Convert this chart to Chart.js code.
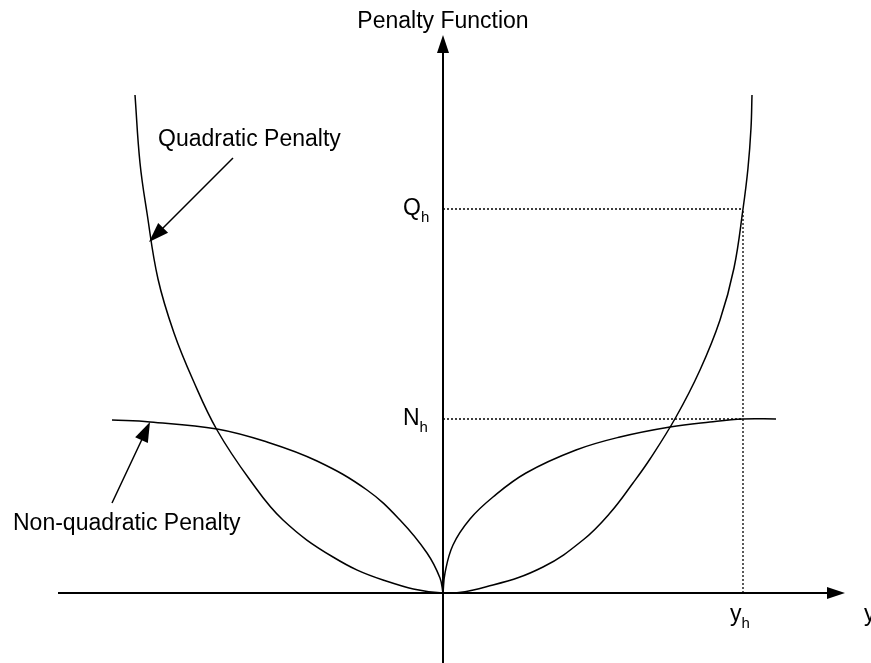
<!DOCTYPE html>
<html>
<head>
<meta charset="utf-8">
<script src="https://cdn.jsdelivr.net/npm/chart.js@4/dist/chart.umd.min.js"></script>
<style>
  body { margin: 0; background: #fff; }
  #chart-div { width: 871px; height: 663px; }
</style>
</head>
<body>
<div id="chart-div"><canvas id="myChart" width="871" height="663"></canvas></div>
<script>
// values (x = deviation y, value = penalty)
const quadX = [-3.08, -3.03, -2.96, -2.85, -2.69, -2.50, -2.26, -1.93, -1.60, -1.10, -0.60, 0, 0.50, 1.00, 1.40, 1.67, 1.90, 2.07, 2.33, 2.57, 2.77, 2.91, 3.00, 3.05, 3.08, 3.09];
const quadY = [4.98, 4.30, 3.80, 3.14, 2.60, 2.13, 1.63, 1.13, 0.73, 0.36, 0.13, 0, 0.08, 0.26, 0.53, 0.80, 1.10, 1.34, 1.76, 2.23, 2.73, 3.25, 3.84, 4.25, 4.65, 4.98];

const nonQuadLeftX = [-3.31, -2.93, -2.26, -1.76, -1.26, -0.76, -0.43, -0.16, -0.03, 0];
const nonQuadLeftY = [1.73, 1.71, 1.64, 1.51, 1.32, 1.03, 0.73, 0.40, 0.15, 0];
const nonQuadRightX = [0, 0.02, 0.10, 0.27, 0.50, 0.83, 1.33, 1.77, 2.27, 2.67, 3.00, 3.33];
const nonQuadRightY = [0, 0.20, 0.48, 0.74, 0.96, 1.20, 1.43, 1.56, 1.66, 1.71, 1.74, 1.74];

// marked levels
const yH = 3.00;
const qH = 3.84;
const nH = 1.74;

// texts
const titleText = "Penalty Function";
const xAxisText = "y";
const tickNames = ["Q", "N", "y"];
const tickSub = "h";
const quadLabel = "Quadratic Penalty";
const nonQuadLabel = "Non-quadratic Penalty";

const toPts = (xs, ys) => xs.map((x, i) => ({x: x, y: ys[i]}));

const FONT = '"Liberation Sans", Arial, sans-serif';

function arrowHead(ctx, x0, y0, x1, y1, len, half) {
    const a = Math.atan2(y1 - y0, x1 - x0);
    ctx.beginPath();
    ctx.moveTo(x1, y1);
    ctx.lineTo(x1 - len * Math.cos(a) + half * Math.sin(a), y1 - len * Math.sin(a) - half * Math.cos(a));
    ctx.lineTo(x1 - len * Math.cos(a) - half * Math.sin(a), y1 - len * Math.sin(a) + half * Math.cos(a));
    ctx.closePath();
    ctx.fill();
}

function subText(ctx, main, sub, x, y) {
    ctx.font = "23px " + FONT;
    ctx.fillText(main, x, y);
    const w = ctx.measureText(main).width;
    ctx.font = "15px " + FONT;
    ctx.fillText(sub, x + w, y + 7);
}

const sketchPlugin = {
    id: "sketch",
    beforeDatasetsDraw(chart) {
        const ctx = chart.ctx;
        const xs = chart.scales.x, ys = chart.scales.y;
        const px = v => xs.getPixelForValue(v);
        const py = v => ys.getPixelForValue(v);
        ctx.save();
        ctx.strokeStyle = "#000";
        ctx.fillStyle = "#000";

        // axes
        ctx.lineWidth = 2;
        ctx.beginPath();
        ctx.moveTo(px(-3.85), py(0));
        ctx.lineTo(px(3.90), py(0));
        ctx.moveTo(px(0), py(-0.72));
        ctx.lineTo(px(0), py(5.45));
        ctx.stroke();
        arrowHead(ctx, px(0), py(0), px(4.02), py(0), 18, 6);
        arrowHead(ctx, px(0), py(0), px(0), py(5.58), 18, 6);

        // annotation arrows
        ctx.lineWidth = 1.5;
        ctx.beginPath();
        ctx.moveTo(px(-2.10), py(4.35));
        ctx.lineTo(px(-2.82), py(3.63));
        ctx.moveTo(px(-3.31), py(0.90));
        ctx.lineTo(px(-2.99), py(1.58));
        ctx.stroke();
        arrowHead(ctx, px(-2.10), py(4.35), px(-2.94), py(3.51), 20, 7);
        arrowHead(ctx, px(-3.31), py(0.90), px(-2.93), py(1.71), 20, 7);

        // texts
        ctx.textBaseline = "alphabetic";
        ctx.font = "23px " + FONT;
        ctx.textAlign = "center";
        ctx.fillText(titleText, px(0), 28);
        ctx.textAlign = "left";
        ctx.fillText(quadLabel, 158, 146);
        ctx.fillText(nonQuadLabel, 13, 530);
        ctx.fillText(xAxisText, 864, py(0) + 28);

        subText(ctx, tickNames[0], tickSub, px(0) - 40, py(qH) + 6);
        subText(ctx, tickNames[1], tickSub, px(0) - 40, py(nH) + 6);
        subText(ctx, tickNames[2], tickSub, px(yH) - 13, py(0) + 28);
        ctx.restore();
    }
};

const curve = (data) => ({
    data: data,
    showLine: true,
    borderColor: "#000",
    borderWidth: 1.5,
    pointRadius: 0,
    fill: false,
    tension: 0.4
});

const dotted = (data) => ({
    data: data,
    showLine: true,
    borderColor: "#000",
    borderWidth: 1.3,
    borderDash: [2, 2],
    pointRadius: 0,
    fill: false,
    tension: 0
});

new Chart(document.getElementById("myChart"), {
    type: "scatter",
    data: {
        datasets: [
            dotted([{x: 0, y: qH}, {x: yH, y: qH}]),
            dotted([{x: 0, y: nH}, {x: yH, y: nH}]),
            dotted([{x: yH, y: 0}, {x: yH, y: qH}]),
            curve(toPts(quadX, quadY)),
            curve(toPts(nonQuadLeftX, nonQuadLeftY)),
            curve(toPts(nonQuadRightX, nonQuadRightY))
        ]
    },
    options: {
        responsive: false,
        animation: false,
        layout: { padding: 0 },
        plugins: { legend: { display: false }, tooltip: { enabled: false } },
        scales: {
            x: { type: "linear", min: -4.43, max: 4.28, display: false },
            y: { type: "linear", min: -0.70, max: 5.93, display: false }
        }
    },
    plugins: [sketchPlugin]
});
</script>
</body>
</html>
